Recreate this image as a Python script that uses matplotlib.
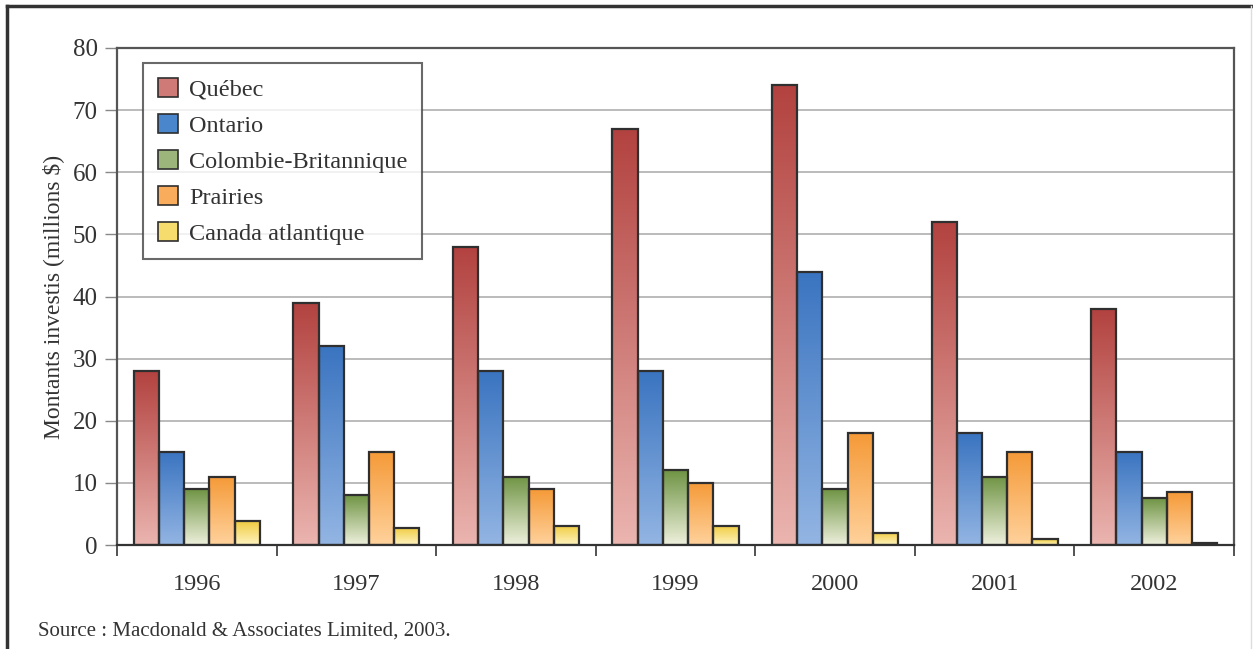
import matplotlib
matplotlib.use("Agg")
import matplotlib.pyplot as plt
import numpy as np
from matplotlib.colors import LinearSegmentedColormap
from matplotlib.patches import Patch
from matplotlib.lines import Line2D

plt.rcParams["font.family"] = ["Liberation Serif", "DejaVu Serif"]

years = ["1996", "1997", "1998", "1999", "2000", "2001", "2002"]
regions = ["Québec", "Ontario", "Colombie-Britannique", "Prairies", "Canada atlantique"]
quebec = [28, 39, 48, 67, 74, 52, 38]
ontario = [15, 32, 28, 28, 44, 18, 15]
colombie = [9, 8, 11, 12, 9, 11, 7.5]
prairies = [11, 15, 9, 10, 18, 15, 8.5]
atlantique = [3.8, 2.8, 3.1, 3.1, 2.0, 0.9, 0.4]
series = [quebec, ontario, colombie, prairies, atlantique]

# (top colour, bottom colour) for the vertical gradient of each series
grad_colors = [
    ("#b2423f", "#ebb5b0"),
    ("#3a74c0", "#93b5e3"),
    ("#6f9444", "#eef0dc"),
    ("#f59a38", "#ffd29c"),
    ("#f0cc40", "#fff3c0"),
]
legend_colors = ["#cf7a76", "#4a86cc", "#9cb57a", "#f8ac5c", "#f6dc6c"]

fig = plt.figure(figsize=(12.53, 6.49), dpi=100)
ax = fig.add_axes([117 / 1253, 1 - 545 / 649, 1117 / 1253, 497 / 649])

n = len(series)
group_w = 0.79
bw = group_w / n
x = np.arange(len(years))
grad = np.linspace(0, 1, 256).reshape(-1, 1)

for i, (vals, (ctop, cbot)) in enumerate(zip(series, grad_colors)):
    cmap = LinearSegmentedColormap.from_list(f"g{i}", [cbot, ctop])
    pos = x - group_w / 2 + bw * (i + 0.5)
    bars = ax.bar(pos, vals, width=bw, color="none", edgecolor="#2f2f2f",
                  linewidth=1.6, zorder=3)
    for b in bars:
        x0, y0 = b.get_x(), b.get_y()
        w, h = b.get_width(), b.get_height()
        im = ax.imshow(grad, extent=(x0, x0 + w, y0, y0 + h), origin="lower",
                       cmap=cmap, aspect="auto", zorder=2)
        im.set_clip_path(b)

ax.set_xlim(-0.5, len(years) - 0.5)
ax.set_ylim(0, 80)
ax.set_yticks(range(0, 81, 10))
ax.yaxis.grid(True, color="#b5b5b5", linewidth=1.3, zorder=0)
ax.set_axisbelow(True)

ax.set_xticks(x)
ax.set_xticklabels(years, fontsize=17.5, color="#333333")
ax.set_xticks(np.arange(-0.5, len(years), 1.0), minor=True)
ax.tick_params(axis="x", which="major", length=0, pad=21)
ax.tick_params(axis="x", which="minor", length=8, width=1.3, color="#444444",
               direction="out")
ax.tick_params(axis="y", length=9, width=1.0, color="#888888", labelsize=18,
               labelcolor="#333333", pad=5)

for side, sp in ax.spines.items():
    sp.set_color("#555555")
    sp.set_linewidth(1.6)
ax.spines["bottom"].set_color("#333333")

ax.set_ylabel("Montants investis (millions $)", fontsize=17, color="#333333",
              labelpad=6)

handles = [Patch(facecolor=c, edgecolor="#2f2f2f", linewidth=1.2)
           for c in legend_colors]
leg = ax.legend(handles, regions, loc="upper left",
                bbox_to_anchor=(26 / 1117, 482 / 497), borderaxespad=0,
                fontsize=17.5, frameon=True, fancybox=False, edgecolor="#444444",
                handlelength=0.85, handleheight=0.85, handletextpad=0.45,
                labelspacing=0.53, borderpad=0.6)
leg.get_frame().set_linewidth(1.5)
for t in leg.get_texts():
    t.set_color("#333333")

fig.text(38 / 1253, 1 - 631 / 649, "Source : Macdonald & Associates Limited, 2003.",
         fontsize=15, color="#333333", va="center", ha="left")

# outer frame
fig.add_artist(Line2D([7 / 1253, 7 / 1253], [0, 1 - 6 / 649],
                      transform=fig.transFigure, color="#333333", linewidth=2.5))
fig.add_artist(Line2D([7 / 1253, 1251 / 1253], [1 - 6 / 649, 1 - 6 / 649],
                      transform=fig.transFigure, color="#333333", linewidth=2.5))
fig.add_artist(Line2D([1251 / 1253, 1251 / 1253], [0, 1 - 6 / 649],
                      transform=fig.transFigure, color="#dddddd", linewidth=1.0))

fig.savefig("out.png", dpi=100)
